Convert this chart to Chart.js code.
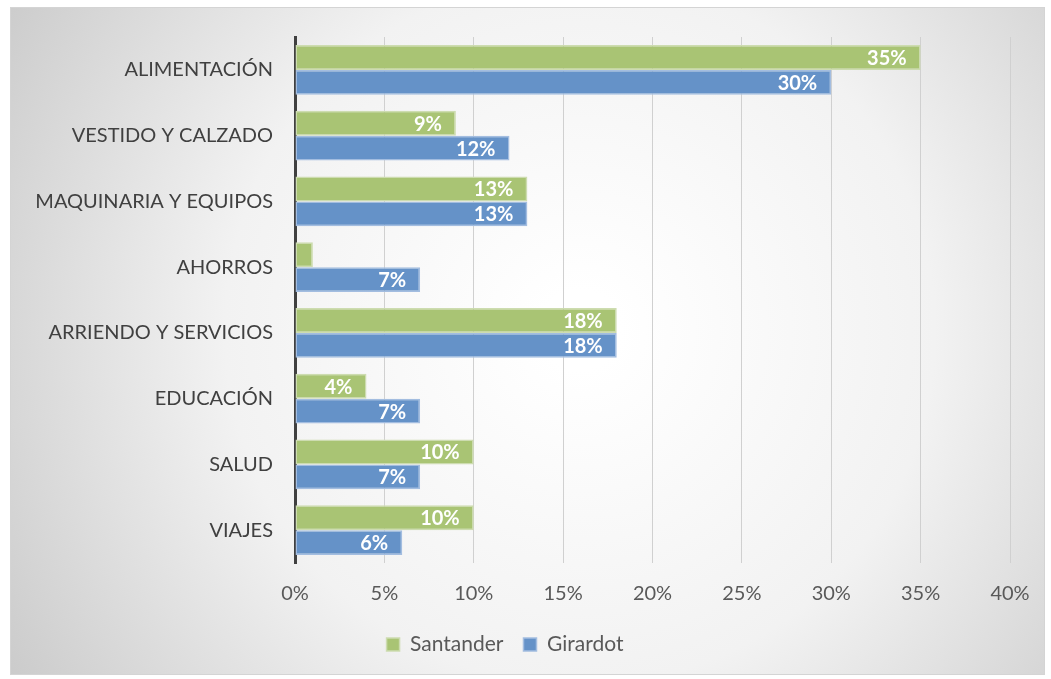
<!DOCTYPE html>
<html>
<head>
<meta charset="utf-8">
<script src="https://cdn.jsdelivr.net/npm/chart.js@4"></script>
<style>
  html, body { margin: 0; padding: 0; background: #fff; }
  #wrap { position: relative; width: 1051px; height: 679px; }
</style>
</head>
<body>
<div id="wrap"><canvas id="chart" width="1051" height="679"></canvas></div>
<script>
const categories = ['ALIMENTACIÓN', 'VESTIDO Y CALZADO', 'MAQUINARIA Y EQUIPOS', 'AHORROS', 'ARRIENDO Y SERVICIOS', 'EDUCACIÓN', 'SALUD', 'VIAJES'];
const santander = [35, 9, 13, 1, 18, 4, 10, 10];
const girardot = [30, 12, 13, 7, 18, 7, 7, 6];
const xTicks = [0, 5, 10, 15, 20, 25, 30, 35, 40];

const FONT = 'Lato, "Noto Sans", sans-serif';

// background panel with the soft grey radial shading
const panelBg = {
  id: 'panelBg',
  beforeDraw(chart) {
    const c = chart.ctx;
    const x0 = 10, y0 = 7, x1 = 1045, y1 = 675;
    const g = c.createRadialGradient(580, 330, 40, 580, 330, 740);
    g.addColorStop(0, '#ffffff');
    g.addColorStop(0.45, '#f2f2f2');
    g.addColorStop(1, '#c2c2c2');
    c.save();
    c.fillStyle = g;
    c.fillRect(x0, y0, x1 - x0, y1 - y0);
    c.strokeStyle = '#d4d4d4';
    c.lineWidth = 1;
    c.strokeRect(x0 + 0.5, y0 + 0.5, x1 - x0 - 1, y1 - y0 - 1);
    c.restore();
  }
};

// white bold value labels at the inner end of each bar
const barLabels = {
  id: 'barLabels',
  afterDatasetsDraw(chart) {
    const c = chart.ctx;
    c.save();
    c.font = 'bold 20px ' + FONT;
    c.fillStyle = '#ffffff';
    c.textAlign = 'right';
    c.textBaseline = 'middle';
    chart.data.datasets.forEach((ds, i) => {
      chart.getDatasetMeta(i).data.forEach((bar, j) => {
        const v = ds.data[j];
        if (v < 2) return;
        c.fillText(v + '%', bar.x - 14, bar.y + 1);
      });
    });
    c.restore();
  }
};

new Chart(document.getElementById('chart'), {
  type: 'bar',
  data: {
    labels: categories,
    datasets: [
      { label: 'Santander', data: santander, backgroundColor: '#a9c474', borderColor: '#cddcb0', borderWidth: 1.5, borderSkipped: false },
      { label: 'Girardot', data: girardot, backgroundColor: '#6592c8', borderColor: '#a3bde0', borderWidth: 1.5, borderSkipped: false }
    ]
  },
  options: {
    indexAxis: 'y',
    responsive: false,
    animation: false,
    layout: { padding: { top: 37, right: 41, bottom: 14, left: 0 } },
    datasets: { bar: { categoryPercentage: 0.76, barPercentage: 1 } },
    scales: {
      x: {
        min: 0, max: 40,
        afterBuildTicks: s => { s.ticks = xTicks.map(v => ({ value: v })); },
        afterFit: s => { s.height = 51; },
        grid: { color: '#d0d0d0', lineWidth: 1, drawTicks: false },
        border: { display: false },
        ticks: { padding: 19, color: '#595959', font: { family: FONT, size: 20 }, callback: v => v + '%' }
      },
      y: {
        afterFit: s => { s.width = 295; },
        grid: { display: false, drawTicks: false },
        border: { display: true, color: '#404040', width: 3 },
        ticks: { padding: 22, color: '#404040', font: { family: FONT, size: 20 } }
      }
    },
    plugins: {
      legend: {
        position: 'bottom',
        labels: { boxWidth: 13, boxHeight: 13, padding: 20, color: '#595959', font: { family: FONT, size: 21 } }
      },
      tooltip: { enabled: false }
    }
  },
  plugins: [panelBg, barLabels]
});
</script>
</body>
</html>
